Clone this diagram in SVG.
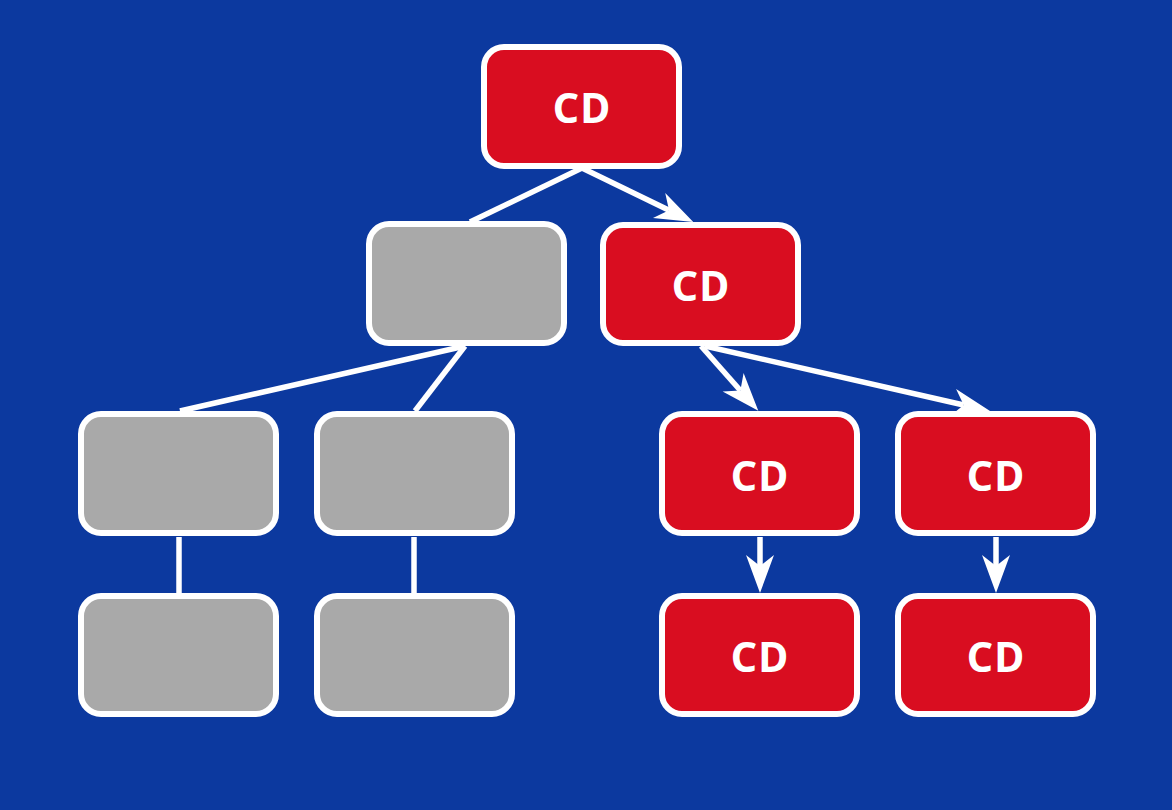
<svg xmlns="http://www.w3.org/2000/svg" width="1172" height="810" viewBox="0 0 1172 810">
<style>
.bg{fill:#0c399f}
.n rect{stroke:#fff;stroke-width:6}
.red rect{fill:#d90d20}
.gray rect{fill:#a9a9a9}
.n text{fill:#fff;font-family:"Noto Sans","Open Sans",sans-serif;font-weight:700;font-size:41px;letter-spacing:1px;text-anchor:middle;dominant-baseline:central}
#connectors path{fill:none;stroke:#fff;stroke-width:5.5}
</style>
<defs>
<marker id="ah" markerUnits="userSpaceOnUse" viewBox="-12 -16 42 32" refX="0" refY="0" markerWidth="42" markerHeight="32" orient="auto" overflow="visible">
<path d="M27,0 L-11,-14 L0,0 L-11,14 Z" fill="#fff"/>
</marker>
</defs>
<rect class="bg" x="0" y="0" width="1172" height="810"/>
<g id="connectors">
<path d="M582,168 L470,222"/>
<path d="M465,346 L180,411"/>
<path d="M465,346 L415,411"/>
<path d="M179,537 L179,593"/>
<path d="M414,537 L414,593"/>
<path d="M582,168 L669,210.3" marker-end="url(#ah)"/>
<path d="M701,346 L740.4,390.5" marker-end="url(#ah)"/>
<path d="M705,346 L963.7,405" marker-end="url(#ah)"/>
<path d="M760,537 L760,566" marker-end="url(#ah)"/>
<path d="M996,537 L996,566" marker-end="url(#ah)"/>
</g>
<g id="root" class="n red"><rect x="484" y="47" width="195" height="119" rx="20"/><text x="582" y="107">CD</text></g>
<g id="gray-l2" class="n gray"><rect x="369" y="224" width="195" height="119" rx="20"/></g>
<g id="red-l2" class="n red"><rect x="603" y="225" width="195" height="118" rx="20"/><text x="701" y="285">CD</text></g>
<g id="gray-l3a" class="n gray"><rect x="81" y="414" width="195" height="119" rx="20"/></g>
<g id="gray-l3b" class="n gray"><rect x="317" y="414" width="195" height="119" rx="20"/></g>
<g id="red-l3a" class="n red"><rect x="662" y="414" width="195" height="119" rx="20"/><text x="760" y="475">CD</text></g>
<g id="red-l3b" class="n red"><rect x="898" y="414" width="195" height="119" rx="20"/><text x="996" y="475">CD</text></g>
<g id="gray-l4a" class="n gray"><rect x="81" y="596" width="195" height="118" rx="20"/></g>
<g id="gray-l4b" class="n gray"><rect x="317" y="596" width="195" height="118" rx="20"/></g>
<g id="red-l4a" class="n red"><rect x="662" y="596" width="195" height="118" rx="20"/><text x="760" y="656">CD</text></g>
<g id="red-l4b" class="n red"><rect x="898" y="596" width="195" height="118" rx="20"/><text x="996" y="656">CD</text></g>
</svg>
